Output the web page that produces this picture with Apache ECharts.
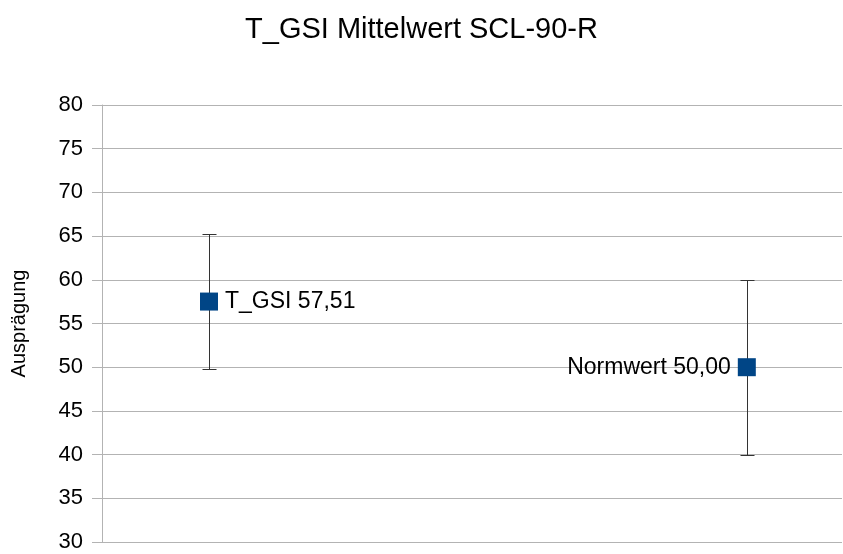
<!DOCTYPE html>
<html><head><meta charset="utf-8">
<script src="https://cdn.jsdelivr.net/npm/echarts@6/dist/echarts.min.js"></script>
<style>html,body{margin:0;padding:0;background:#fff}#c{width:843px;height:554px}</style>
</head><body><div id="c"></div>
<script>
const categories = ["T_GSI", "Normwert"];
const categoryIndex = [1, 2];
const means = [57.51, 50.00];
const errLow = [49.75, 40];
const errHigh = [65.27, 60];
const yTicks = [30, 35, 40, 45, 50, 55, 60, 65, 70, 75, 80];

const chart = echarts.init(document.getElementById('c'));
const font = 'Liberation Sans, Arial, sans-serif';
const fmt = v => v.toFixed(2).replace('.', ',');

chart.setOption({
  animation: false,
  title: { text: 'T_GSI Mittelwert SCL-90-R', left: 'center', top: 10,
    textStyle: { fontFamily: font, fontSize: 29, fontWeight: 'normal', color: '#000' } },
  grid: { left: 102, right: 1, top: 105, bottom: 12, containLabel: false, outerBoundsMode: 'none' },
  xAxis: { type: 'value', min: 0.801, max: 2.177, show: false },
  yAxis: {
    type: 'value', min: yTicks[0], max: yTicks[yTicks.length - 1], interval: 5,
    name: 'Ausprägung', nameLocation: 'middle', nameGap: 73, nameRotate: 90,
    nameTextStyle: { fontFamily: font, fontSize: 20, color: '#000' },
    axisLine: { show: true, lineStyle: { color: '#b3b3b3' } },
    axisTick: { show: true, length: 10, lineStyle: { color: '#b3b3b3' } },
    axisLabel: { fontFamily: font, fontSize: 22, color: '#000', margin: 19 },
    splitLine: { show: true, lineStyle: { color: '#b3b3b3', width: 1 } }
  },
  series: [
    {
      type: 'custom',
      data: categoryIndex.map((x, i) => [x, errLow[i], errHigh[i]]),
      renderItem: function (params, api) {
        const x = api.value(0);
        const lo = api.coord([x, api.value(1)]);
        const hi = api.coord([x, api.value(2)]);
        const cx = Math.round(lo[0]) + 0.5;
        const w = 7;
        const st = { stroke: '#333', lineWidth: 1 };
        return { type: 'group', children: [
          { type: 'line', shape: { x1: cx, y1: Math.round(hi[1]) + 0.5, x2: cx, y2: Math.round(lo[1]) + 0.5 }, style: st },
          { type: 'line', shape: { x1: cx - w, y1: Math.round(hi[1]) + 0.5, x2: cx + w, y2: Math.round(hi[1]) + 0.5 }, style: st },
          { type: 'line', shape: { x1: cx - w, y1: Math.round(lo[1]) + 0.5, x2: cx + w, y2: Math.round(lo[1]) + 0.5 }, style: st }
        ]};
      },
      z: 2
    },
    {
      type: 'scatter',
      symbol: 'rect', symbolSize: 18,
      itemStyle: { color: '#004586', opacity: 1 },
      data: categoryIndex.map((x, i) => ({
        value: [x, means[i]],
        label: {
          show: true,
          position: i === 0 ? 'right' : 'left',
          distance: 7,
          formatter: categories[i] + ' ' + fmt(means[i]),
          fontFamily: font, fontSize: 23, color: '#000'
        }
      })),
      z: 3
    }
  ]
});
</script></body></html>
